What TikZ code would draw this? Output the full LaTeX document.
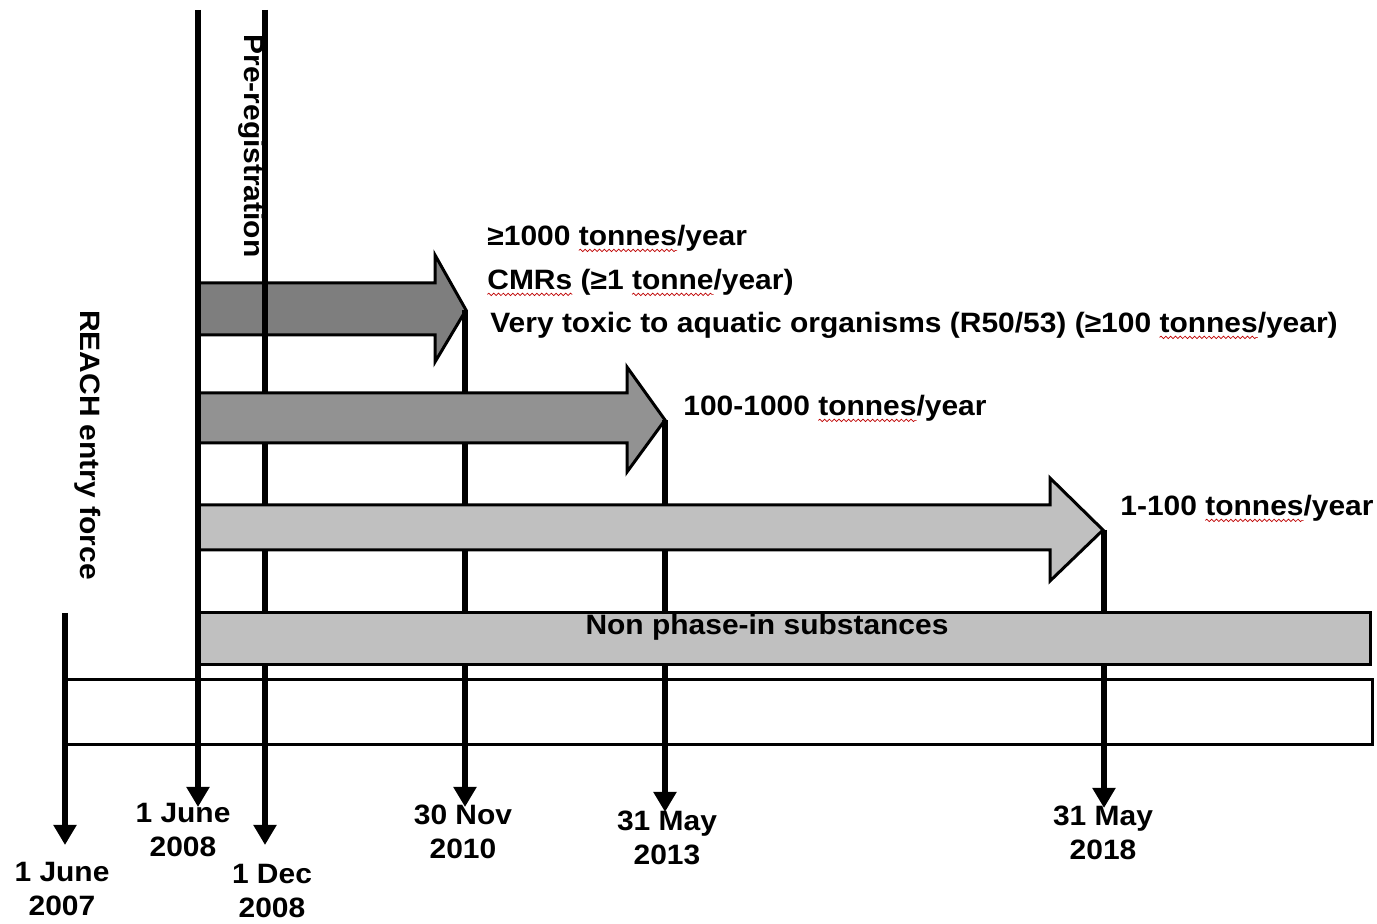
\documentclass[tikz,border=0pt]{standalone}
\usepackage{fontspec}
\setmainfont{Liberation Sans}[FakeStretch=1.07]
\usetikzlibrary{arrows.meta,decorations.pathmorphing}
\newcommand\spellwave[1]{\tikz[baseline=(sw.base),x=1pt,y=1pt]{\node[inner sep=0pt,outer sep=0pt] (sw) {#1};\draw[overlay,red!75!black,line width=0.35pt,decorate,decoration={snake,segment length=2.4pt,amplitude=0.6pt}] ([yshift=-2.2pt]sw.base west) -- ([yshift=-2.2pt]sw.base east);}}
\definecolor{darkarrow}{HTML}{7E7E7E}
\definecolor{midarrow}{HTML}{929292}
\definecolor{lightbar}{HTML}{C0C0C0}
\tikzset{
 txt/.style={font=\fontsize{14pt}{17pt}\selectfont\bfseries, inner sep=0pt},
 datelbl/.style={txt, align=center},
 timeline/.style={line width=3.2pt, -{Triangle[width=11pt,length=10pt]}},
 seg/.style={line width=3.2pt},
 boxline/.style={draw=black, line width=1.5pt, line join=miter},
}
\begin{document}
\begin{tikzpicture}[x=0.5pt,y=-0.5pt]
\useasboundingbox (0,0) rectangle (1377,924);
% bars and block arrows
\path[boxline, fill=white] (65,680) rectangle (1372,745);
\path[boxline, fill=darkarrow] (198,283) -- (435,283) -- (435,255) -- (466,310) -- (435,362) -- (435,335) -- (198,335) -- cycle;
\path[boxline, fill=midarrow] (198,393) -- (627,393) -- (627,367) -- (665,420) -- (627,472) -- (627,443) -- (198,443) -- cycle;
\path[boxline, fill=lightbar] (198,505) -- (1050,505) -- (1050,478) -- (1103,530) -- (1050,581) -- (1050,550) -- (198,550) -- cycle;
\path[boxline, fill=lightbar] (198,613) rectangle (1370,665);
% texts
\node[txt, anchor=base west] (ta) at (487,246) {≥1000 \spellwave{tonnes}/year};
\node[txt, anchor=base west] (tb) at (487,290) {\spellwave{CMRs} (≥1 \spellwave{tonne}/year)};
\node[txt, anchor=base west] (tc) at (490,333) {Very toxic to aquatic organisms (R50/53) (≥100 \spellwave{tonnes}/year)};
\node[txt, anchor=base west] (td) at (683,416) {100-1000 \spellwave{tonnes}/year};
\node[txt, anchor=base west] (te) at (1120,516) {1-100 \spellwave{tonnes}/year};
\node[txt, anchor=base] (nonphase) at (767,635) {Non phase-in substances};
\node[txt, rotate=-90] (prereg) at (252,146) {Pre-registration};
\node[txt, rotate=-90] (reach) at (88,445) {REACH entry force};
% date labels
\node[datelbl] (d07) at (62,889) {1 June\\2007};
\node[datelbl] (d08) at (183,830) {1 June\\2008};
\node[datelbl] (dd08) at (272,891) {1 Dec\\2008};
\node[datelbl] (d10) at (463,832) {30 Nov\\2010};
\node[datelbl] (d13) at (667,838) {31 May\\2013};
\node[datelbl] (d18) at (1103,833) {31 May\\2018};
% timeline arrows: visible only between the grey bars
\coordinate (s07) at (65,613);   \coordinate (e07) at (65,845);
\coordinate (s08) at (198,10);   \coordinate (e08) at (198,807);
\coordinate (sd08) at (265,10);  \coordinate (ed08) at (265,845);
\coordinate (s10) at (465,310);  \coordinate (e10) at (465,807);
\coordinate (s13) at (665,420);  \coordinate (e13) at (665,812);
\coordinate (s18) at (1104,530); \coordinate (e18) at (1104,808);
% breaks of the lines at the covering bars
\coordinate (dA1) at (265,393); \coordinate (dA2) at (265,443);
\coordinate (dB1) at (265,505); \coordinate (dB2) at (265,550);
\coordinate (dC1) at (265,613); \coordinate (dC2) at (265,665);
\coordinate (nA1) at (465,393); \coordinate (nA2) at (465,443);
\coordinate (nB1) at (465,505); \coordinate (nB2) at (465,550);
\coordinate (nC1) at (465,613); \coordinate (nC2) at (465,665);
\coordinate (mB1) at (665,505); \coordinate (mB2) at (665,550);
\coordinate (mC1) at (665,613); \coordinate (mC2) at (665,665);
\coordinate (yC1) at (1104,613); \coordinate (yC2) at (1104,665);
\draw[timeline] (s07) -- (e07);
\draw[seg] (sd08) -- (dA1) (dA2) -- (dB1) (dB2) -- (dC1);
\draw[timeline] (dC2) -- (ed08);
\draw[seg] (s10) -- (nA1) (nA2) -- (nB1) (nB2) -- (nC1);
\draw[timeline] (nC2) -- (e10);
\draw[seg] (s13) -- (mB1) (mB2) -- (mC1);
\draw[timeline] (mC2) -- (e13);
\draw[seg] (s18) -- (yC1);
\draw[timeline] (yC2) -- (e18);
\draw[timeline] (s08) -- (e08);
\end{tikzpicture}
\end{document}
